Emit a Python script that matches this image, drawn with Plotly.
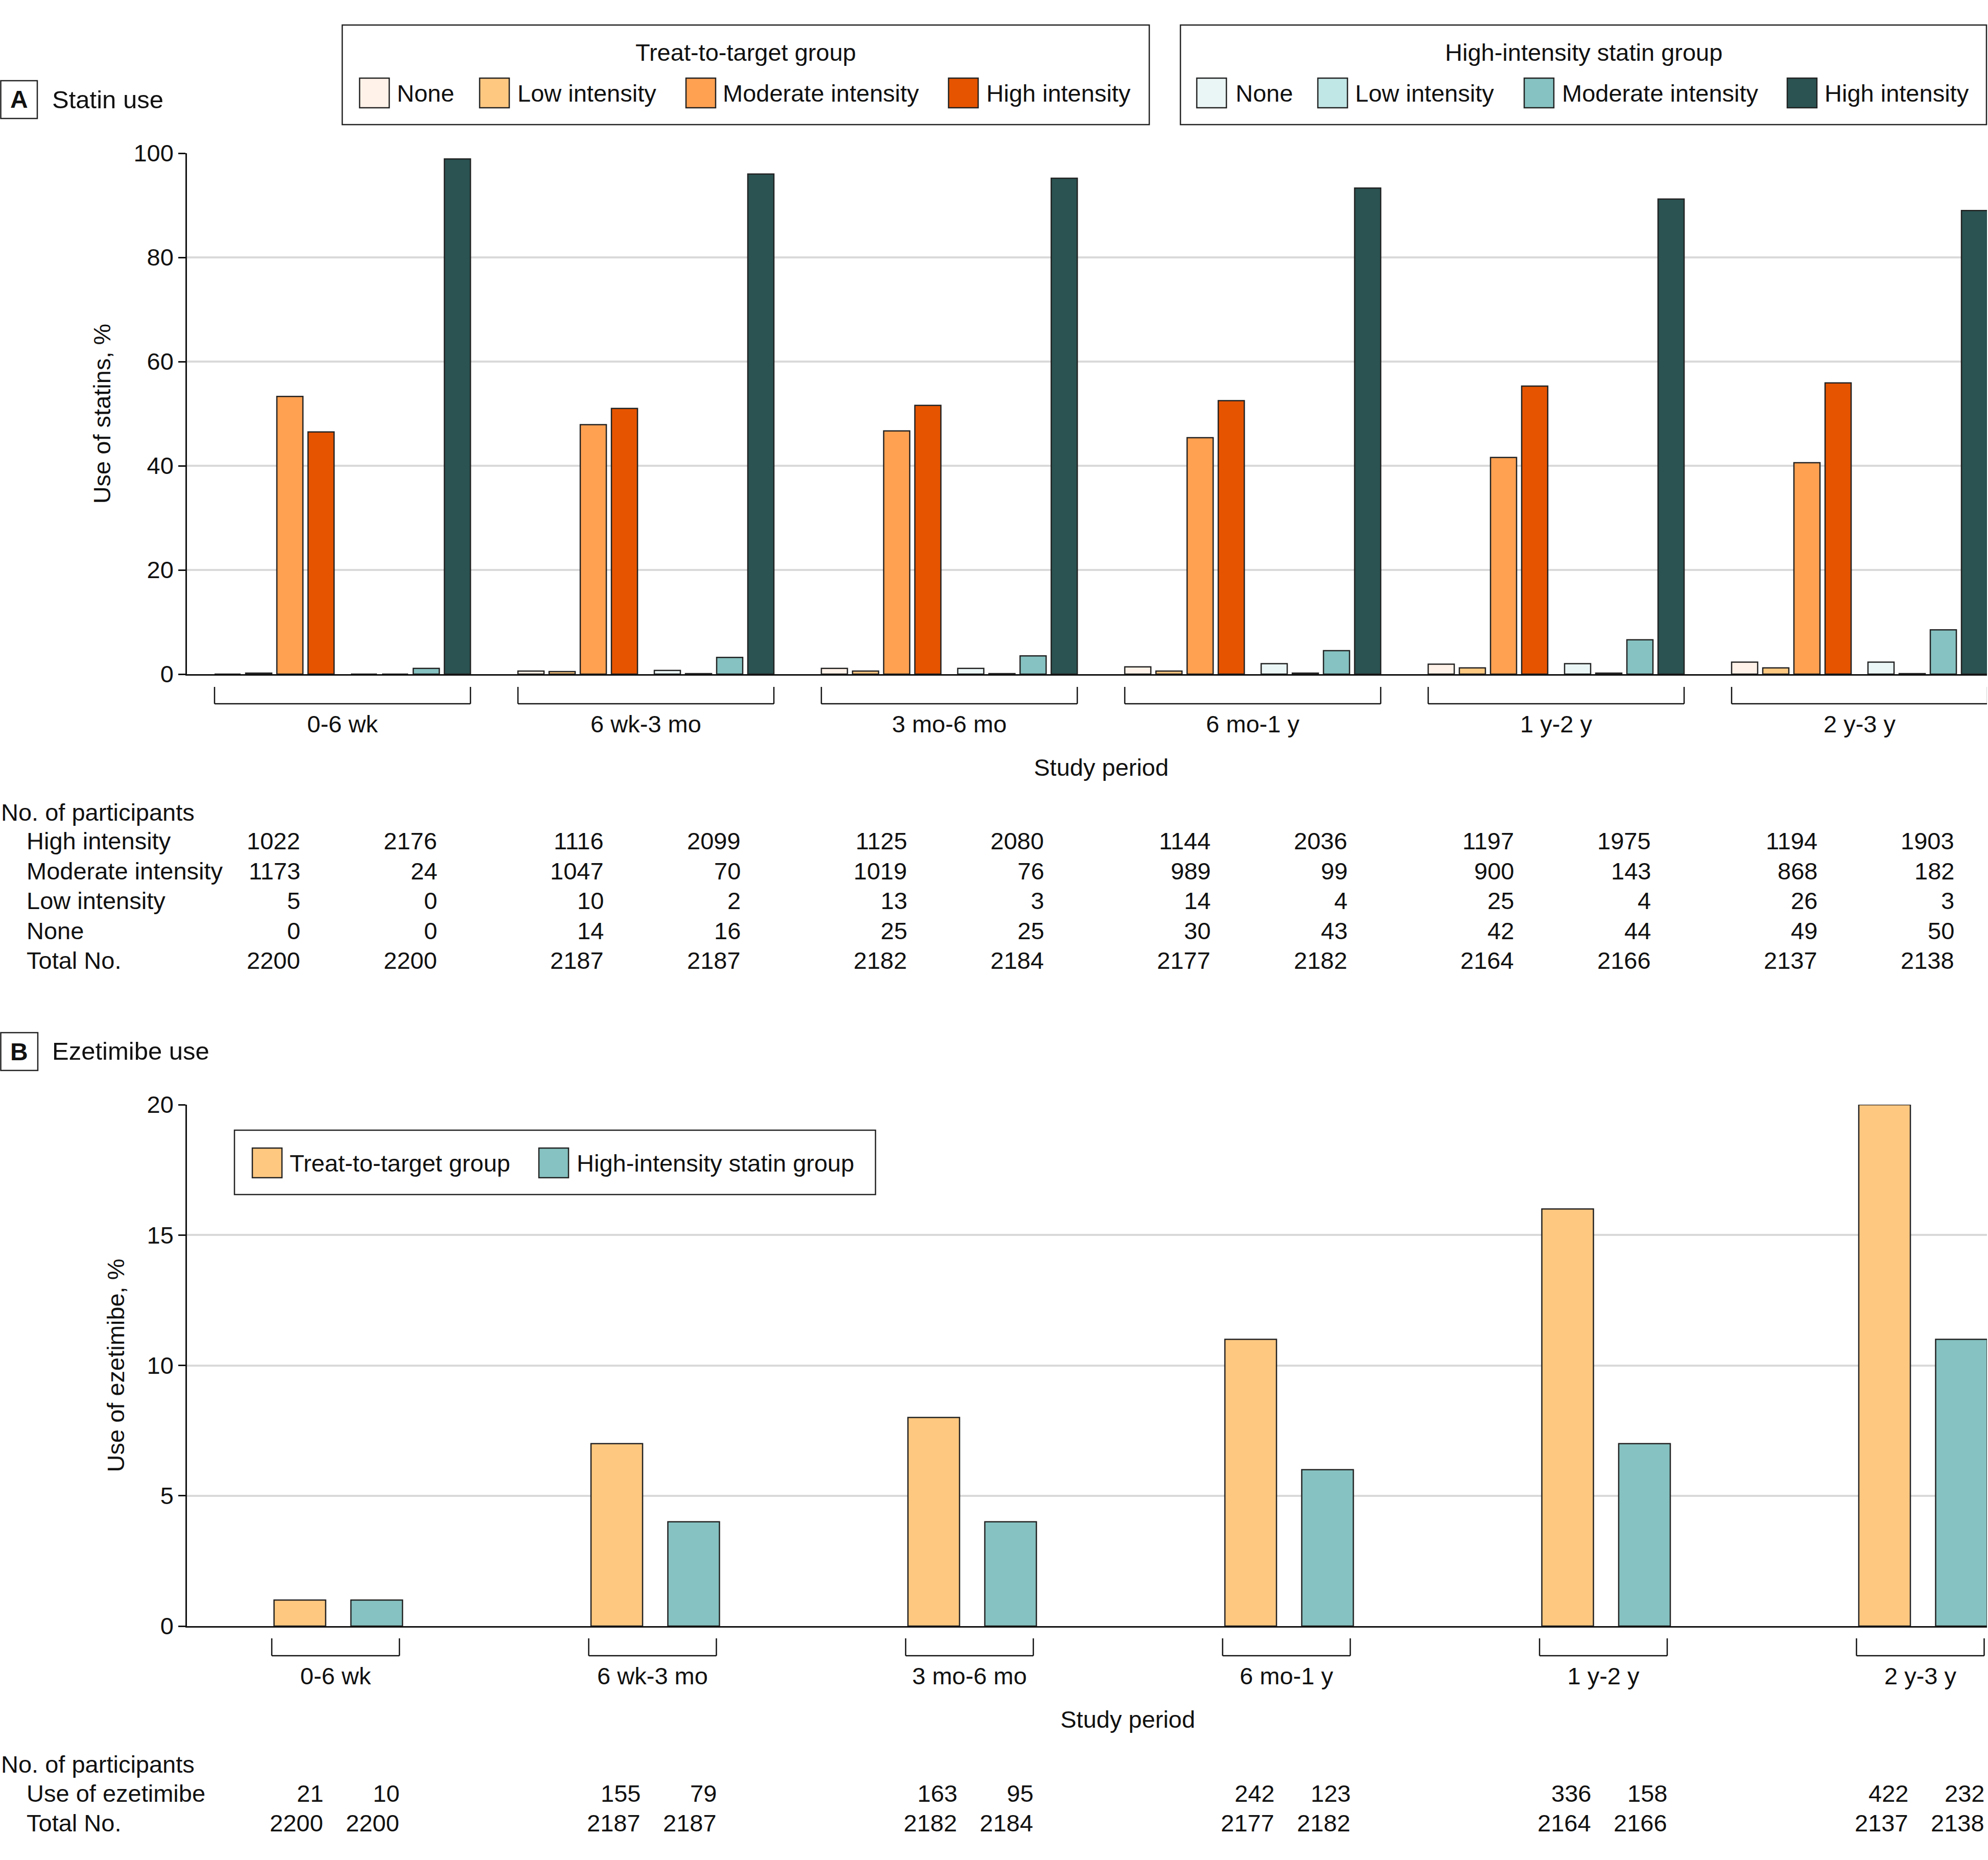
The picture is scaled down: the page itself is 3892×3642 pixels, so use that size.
import plotly.graph_objects as go

# ---------------- data ----------------
periods = ["0-6 wk", "6 wk-3 mo", "3 mo-6 mo", "6 mo-1 y", "1 y-2 y", "2 y-3 y"]
levels = ["None", "Low intensity", "Moderate intensity", "High intensity"]

# Panel A: statin use, % (treat-to-target group)
t2t_none = [0.0, 0.6, 1.1, 1.4, 1.9, 2.3]
t2t_low = [0.2, 0.5, 0.6, 0.6, 1.2, 1.2]
t2t_mod = [53.3, 47.9, 46.7, 45.4, 41.6, 40.6]
t2t_high = [46.5, 51.0, 51.6, 52.5, 55.3, 55.9]
# Panel A: statin use, % (high-intensity statin group)
his_none = [0.0, 0.7, 1.1, 2.0, 2.0, 2.3]
his_low = [0.0, 0.1, 0.1, 0.2, 0.2, 0.1]
his_mod = [1.1, 3.2, 3.5, 4.5, 6.6, 8.5]
his_high = [98.9, 96.0, 95.2, 93.3, 91.2, 89.0]

# Panel A: number of participants
t2t_n_high = [1022, 1116, 1125, 1144, 1197, 1194]
t2t_n_mod = [1173, 1047, 1019, 989, 900, 868]
t2t_n_low = [5, 10, 13, 14, 25, 26]
t2t_n_none = [0, 14, 25, 30, 42, 49]
t2t_n_total = [2200, 2187, 2182, 2177, 2164, 2137]
his_n_high = [2176, 2099, 2080, 2036, 1975, 1903]
his_n_mod = [24, 70, 76, 99, 143, 182]
his_n_low = [0, 2, 3, 4, 4, 3]
his_n_none = [0, 16, 25, 43, 44, 50]
his_n_total = [2200, 2187, 2184, 2182, 2166, 2138]

# Panel B: ezetimibe use, %
eze_t2t_pct = [1, 7, 8, 11, 16, 20]
eze_his_pct = [1, 4, 4, 6, 7, 11]
eze_t2t_n = [21, 155, 163, 242, 336, 422]
eze_his_n = [10, 79, 95, 123, 158, 232]

row_labels_A = ["High intensity", "Moderate intensity", "Low intensity", "None", "Total No."]
row_labels_B = ["Use of ezetimibe", "Total No."]

# ---------------- style ----------------
W, H = 3892, 3642
FONT = "Liberation Sans, Arial, sans-serif"
FS = 47
INK = "#111111"
OUT = "#222222"
GRID = "#d9d9d9"
T2T_COLORS = ["#fff2e8", "#ffc880", "#ffa151", "#e65400"]
HIS_COLORS = ["#eaf5f5", "#c0e6e5", "#85c2c1", "#2a5352"]
EZE_COLORS = ["#ffc880", "#85c2c1"]


def fx(p):
    return p / W


def fy(p):
    return 1 - p / H


fig = go.Figure()

# ---------------- panel A bars ----------------
A_BW, A_PITCH, A_T2T0, A_HIS0 = 0.0859, 0.1027, -0.4217, 0.0278
t2t_series = [t2t_none, t2t_low, t2t_mod, t2t_high]
his_series = [his_none, his_low, his_mod, his_high]
for k, vals in enumerate(t2t_series):
    fig.add_trace(go.Bar(
        x=periods, y=vals, name="Treat-to-target: " + levels[k],
        marker=dict(color=T2T_COLORS[k], line=dict(color=OUT, width=2.5)),
        width=A_BW, offset=A_T2T0 + k * A_PITCH, xaxis="x", yaxis="y", showlegend=False))
for k, vals in enumerate(his_series):
    fig.add_trace(go.Bar(
        x=periods, y=vals, name="High-intensity statin: " + levels[k],
        marker=dict(color=HIS_COLORS[k], line=dict(color=OUT, width=2.5)),
        width=A_BW, offset=A_HIS0 + k * A_PITCH, xaxis="x", yaxis="y", showlegend=False))

# ---------------- panel B bars ----------------
B_BW = 0.1628
fig.add_trace(go.Bar(
    x=periods, y=eze_t2t_pct, name="Treat-to-target group",
    marker=dict(color=EZE_COLORS[0], line=dict(color=OUT, width=2.5)),
    width=B_BW, offset=-0.1942, xaxis="x2", yaxis="y2", showlegend=False))
fig.add_trace(go.Bar(
    x=periods, y=eze_his_pct, name="High-intensity statin group",
    marker=dict(color=EZE_COLORS[1], line=dict(color=OUT, width=2.5)),
    width=B_BW, offset=0.0483, xaxis="x2", yaxis="y2", showlegend=False))

shapes = []
annots = []


def text(x, y, s, xanchor="left", size=FS, xref="paper", bold=False):
    annots.append(dict(
        x=x, y=y, xref=xref, yref="paper", text=("<b>%s</b>" % s) if bold else s,
        showarrow=False, xanchor=xanchor, yanchor="middle",
        font=dict(family=FONT, size=size, color=INK)))


def rect(x0, y0, x1, y1, fill="rgba(0,0,0,0)", lw=2.5):
    shapes.append(dict(type="rect", xref="paper", yref="paper",
                       x0=fx(x0), x1=fx(x1), y0=fy(y0), y1=fy(y1),
                       line=dict(color=OUT, width=lw), fillcolor=fill, layer="above"))


def bracket(xref, xa, xb, ytop, ybot):
    for (a, b, c, d) in [(xa, ytop, xa, ybot), (xa, ybot, xb, ybot), (xb, ybot, xb, ytop)]:
        shapes.append(dict(type="line", xref=xref, yref="paper", x0=a, x1=c,
                           y0=fy(b), y1=fy(d), line=dict(color=INK, width=2.5)))


# panel labels
rect(1.5, 158, 73, 232)
text(fx(37), fy(195), "A", xanchor="center", size=48, bold=True)
text(fx(100), fy(195), "Statin use", size=49)
rect(1.5, 2022, 74, 2096)
text(fx(37), fy(2059), "B", xanchor="center", size=48, bold=True)
text(fx(100), fy(2058), "Ezetimibe use", size=49)

# panel A legends (two boxes)
rect(670, 49, 2250, 244)
text(fx(1460), fy(103), "Treat-to-target group", xanchor="center")
for k, (sx, tx) in enumerate(zip([704, 939, 1343, 1857], [775, 1011, 1413, 1929])):
    rect(sx, 153, sx + 58, 211, fill=T2T_COLORS[k], lw=2.5)
    text(fx(tx), fy(182), levels[k])
rect(2311, 49, 3889, 244)
text(fx(3100), fy(103), "High-intensity statin group", xanchor="center")
for k, (sx, tx) in enumerate(zip([2343, 2580, 2984, 3499], [2417, 2651, 3056, 3570])):
    rect(sx, 153, sx + 58, 211, fill=HIS_COLORS[k], lw=2.5)
    text(fx(tx), fy(182), levels[k])

# panel B legend
rect(459, 2213, 1714, 2339, fill="white")
rect(494, 2248, 552, 2306, fill=EZE_COLORS[0])
text(fx(565), fy(2277), "Treat-to-target group")
rect(1055, 2248, 1113, 2306, fill=EZE_COLORS[1])
text(fx(1127), fy(2277), "High-intensity statin group")

# brackets under each period
for i in range(len(periods)):
    bracket("x", i - 0.4217, i + 0.4218, 1345, 1378)
    bracket("x2", i - 0.2014, i + 0.2014, 3208, 3242)

# study period titles
annots.append(dict(x=2.5, y=fy(1502), xref="x", yref="paper", text="Study period", showarrow=False,
                   xanchor="center", yanchor="middle", font=dict(family=FONT, size=FS, color=INK)))
annots.append(dict(x=2.5, y=fy(3366), xref="x2", yref="paper", text="Study period", showarrow=False,
                   xanchor="center", yanchor="middle", font=dict(family=FONT, size=FS, color=INK)))

# table A
text(0, fy(1590), "No. of participants")
rows_A_y = [1647, 1705, 1764, 1822, 1880]
t2t_rows = [t2t_n_high, t2t_n_mod, t2t_n_low, t2t_n_none, t2t_n_total]
his_rows = [his_n_high, his_n_mod, his_n_low, his_n_none, his_n_total]
for r, lab in enumerate(row_labels_A):
    text(fx(50), fy(rows_A_y[r]), lab)
    for i in range(len(periods)):
        text(i - 0.136, fy(rows_A_y[r]), str(t2t_rows[r][i]), xanchor="right", xref="x")
        text(i + 0.315, fy(rows_A_y[r]), str(his_rows[r][i]), xanchor="right", xref="x")

# table B
text(0, fy(3454), "No. of participants")
rows_B_y = [3511, 3569]
t2t_rows_B = [eze_t2t_n, t2t_n_total]
his_rows_B = [eze_his_n, his_n_total]
for r, lab in enumerate(row_labels_B):
    text(fx(50), fy(rows_B_y[r]), lab)
    for i in range(len(periods)):
        text(i - 0.035, fy(rows_B_y[r]), str(t2t_rows_B[r][i]), xanchor="right", xref="x2")
        text(i + 0.205, fy(rows_B_y[r]), str(his_rows_B[r][i]), xanchor="right", xref="x2")

common_x = dict(type="category", categoryorder="array", categoryarray=periods,
                showline=True, linecolor=INK, linewidth=2.5, ticks="", showgrid=False,
                zeroline=False, tickfont=dict(family=FONT, size=FS, color=INK),
                ticklabelstandoff=55, automargin=False, fixedrange=True)
common_y = dict(showgrid=True, gridcolor=GRID, gridwidth=4, showline=True, linecolor=INK,
                linewidth=2.5, ticks="outside", ticklen=14, tickwidth=2.5, tickcolor=INK,
                zeroline=False, tickfont=dict(family=FONT, size=FS, color=INK),
                automargin=False, fixedrange=True)

fig.update_layout(
    width=W, height=H, autosize=False,
    margin=dict(l=0, r=0, t=0, b=0),
    paper_bgcolor="white", plot_bgcolor="white",
    barmode="overlay", showlegend=False,
    font=dict(family=FONT, size=FS, color=INK),
    xaxis=dict(domain=[fx(366), fx(3890)], range=[-0.5126, 5.42], anchor="y", **common_x),
    yaxis=dict(domain=[fy(1320), fy(300)], range=[0, 100], tickvals=[0, 20, 40, 60, 80, 100],
               anchor="x", title=dict(text="Use of statins, %", standoff=30,
                                      font=dict(family=FONT, size=FS, color=INK)), **common_y),
    xaxis2=dict(domain=[fx(366), fx(3890)], range=[-0.469, 5.2103], anchor="y2", **common_x),
    yaxis2=dict(domain=[fy(3184), fy(2163)], range=[0, 20], tickvals=[0, 5, 10, 15, 20],
                anchor="x2", title=dict(text="Use of ezetimibe, %", standoff=30,
                                        font=dict(family=FONT, size=FS, color=INK)), **common_y),
    shapes=shapes, annotations=annots,
)

fig.write_html("out.html", config={"displayModeBar": False},
               post_script="document.body.style.margin='0';document.body.style.overflow='hidden';")
